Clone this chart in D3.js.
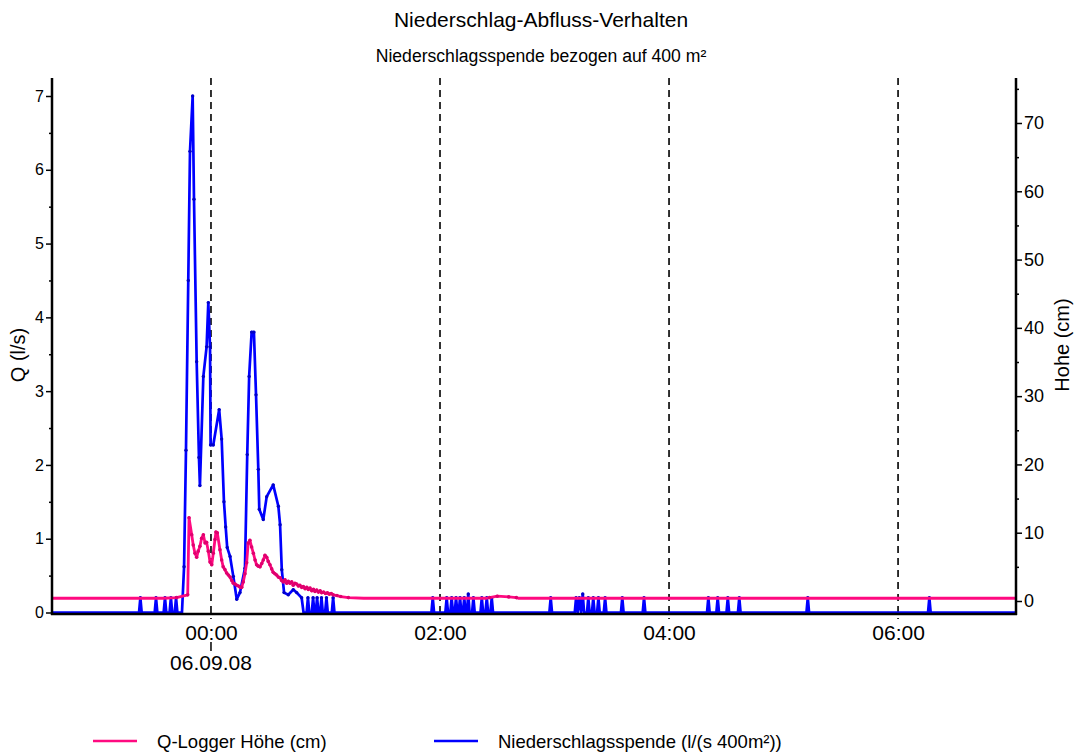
<!DOCTYPE html>
<html>
<head>
<meta charset="utf-8">
<script src="https://cdn.jsdelivr.net/npm/d3@7"></script>
<style>
  body { margin: 0; background: #fff; }
  svg { display: block; }
  text { font-family: "Liberation Sans", Arial, sans-serif; fill: #000; }
</style>
</head>
<body>
<svg id="chart" width="1074" height="753"></svg>
<script>
// ---- labels ----
const titleText = "Niederschlag-Abfluss-Verhalten";
const subtitleText = "Niederschlagsspende bezogen auf 400 m²";
const leftAxisTitle = "Q (l/s)";
const rightAxisTitle = "Hohe (cm)";
const dateLabel = "06.09.08";
const seriesNames = ["Q-Logger Höhe (cm)", "Niederschlagsspende (l/(s 400m²))"];
const seriesColors = ["#ff0a80", "#0000ff"];

// ---- axes (time in minutes relative to 06.09.08 00:00) ----
const timeWindow = [-83.3, 421.8];
const timeTicks = [0, 120, 240, 360];
const qTicks = [0, 1, 2, 3, 4, 5, 6, 7];
const qMinorTicks = [0.5, 1.5, 2.5, 3.5, 4.5, 5.5, 6.5];
const hTicks = [0, 10, 20, 30, 40, 50, 60, 70];
const hMinorTicks = [5, 15, 25, 35, 45, 55, 65, 75];

// ---- Niederschlagsspende, [minute, l/s] ----
const rainPoints = [
  [-84, 0], [-37.7, 0], [-37, 0.2], [-36.3, 0],
  [-29.5, 0], [-28.8, 0.2], [-28.1, 0],
  [-24.8, 0], [-24.1, 0.2], [-23.4, 0],
  [-21.7, 0], [-21, 0.2], [-20.3, 0],
  [-19, 0], [-18.3, 0.2], [-17.6, 0],
  [-15.2, 0], [-14.1, 0.62], [-13.1, 2.2], [-11.9, 4.5], [-11, 6.25], [-9.6, 7.0],
  [-8.9, 5.6], [-7.5, 3.4], [-6.3, 2.1], [-5.8, 1.72], [-4.0, 3.2], [-2.3, 3.6],
  [-1.4, 4.2], [-0.5, 3.6], [-0.2, 2.27], [1.2, 2.27], [4.3, 2.75], [5.6, 2.35],
  [6.8, 1.5], [7.7, 1.16], [8.5, 0.88], [10, 0.76], [11.7, 0.49], [13.5, 0.18],
  [15.2, 0.27], [17.8, 0.6], [19, 2.14], [20, 3.2], [21.3, 3.8], [22.5, 3.8],
  [23.6, 2.95], [24.8, 1.94], [25.3, 1.4], [27.4, 1.26], [29.2, 1.57], [32.6, 1.73],
  [35.3, 1.44], [36.2, 1.19], [37.1, 0.58], [38.3, 0.27], [40.5, 0.24], [43.1, 0.31],
  [44.9, 0.27], [47.5, 0.2], [48.5, 0],
  [50.1, 0], [50.8, 0.2], [51.5, 0], [52.8, 0], [53.5, 0.2], [54.2, 0],
  [54.9, 0], [55.6, 0.2], [56.3, 0], [57.2, 0], [57.9, 0.2], [58.6, 0],
  [59.8, 0], [60.5, 0.2], [61.2, 0], [63.3, 0], [64, 0.2], [64.7, 0],
  [115.5, 0], [116.2, 0.2], [116.9, 0],
  [122.8, 0], [123.5, 0.2], [124.2, 0], [125.4, 0], [126.1, 0.2], [126.8, 0],
  [127.7, 0], [128.4, 0.2], [129.1, 0], [129.8, 0], [130.5, 0.2], [131.2, 0],
  [132, 0], [132.7, 0.2], [133.4, 0], [134.1, 0], [134.8, 0.25], [135.5, 0],
  [136.8, 0], [137.5, 0.2], [138.2, 0], [141.2, 0], [141.9, 0.2], [142.6, 0],
  [143.8, 0], [144.5, 0.2], [145.2, 0], [146.4, 0], [147.1, 0.2], [147.8, 0],
  [177.3, 0], [178, 0.2], [178.7, 0],
  [190.6, 0], [191.3, 0.2], [192.1, 0], [193, 0.2], [193.9, 0], [194.8, 0.25], [195.5, 0],
  [197, 0], [197.7, 0.2], [198.4, 0], [199.6, 0], [200.3, 0.2], [201, 0],
  [202.3, 0], [203, 0.2], [203.7, 0], [205.8, 0], [206.5, 0.2], [207.2, 0],
  [214.8, 0], [215.5, 0.2], [216.2, 0], [226.2, 0], [226.9, 0.2], [227.6, 0],
  [259.9, 0], [260.6, 0.2], [261.3, 0], [264.8, 0], [265.5, 0.2], [266.2, 0],
  [270.1, 0], [270.8, 0.2], [271.5, 0], [276.1, 0], [276.8, 0.2], [277.5, 0],
  [312, 0], [312.7, 0.2], [313.4, 0], [375.7, 0], [376.4, 0.2], [377.1, 0],
  [422, 0]
];

// ---- Q-Logger Höhe, [minute, cm] ----
const levelPoints = [
  [-84, 0.4], [-25, 0.4], [-18, 0.5], [-12.2, 0.9], [-11.5, 12.2], [-10.1, 9.7],
  [-9.3, 8.2], [-8.4, 7.0], [-7.5, 6.4], [-6.7, 7.3], [-5.8, 8.0], [-4.9, 9.2],
  [-4.0, 9.7], [-3.1, 8.5], [-2.3, 8.6], [-1.4, 7.3], [-0.5, 5.7], [0.4, 5.3],
  [1.2, 7.0], [2.1, 9.0], [2.6, 10.1], [3.3, 10.0], [4.7, 7.5], [5.6, 6.0],
  [6.4, 5.0], [7.3, 4.6], [8.2, 4.1], [9.1, 3.8], [10.0, 3.5], [10.9, 3.0],
  [11.7, 2.6], [12.6, 2.5], [13.5, 2.3], [14.4, 2.2], [15.3, 2.0], [16.1, 2.0],
  [16.9, 2.8], [17.8, 4.0], [18.7, 5.6], [19.5, 8.5], [20.4, 8.9], [21.3, 7.9],
  [22.2, 7.0], [23.1, 6.0], [23.9, 5.3], [24.8, 5.1], [25.7, 5.0], [26.6, 5.5],
  [27.4, 6.0], [28.3, 6.7], [29.2, 6.4], [30.0, 5.8], [30.9, 5.3], [31.8, 4.7],
  [32.6, 4.2], [33.5, 4.0], [34.4, 3.8], [35.3, 3.5], [36.2, 3.4], [37, 3.0],
  [37.9, 2.8], [38.8, 3.1], [39.7, 2.6], [40.5, 2.9], [41.4, 2.6], [42.3, 2.8],
  [43.1, 2.3], [44, 2.6], [44.9, 2.5], [45.8, 2.2], [46.6, 2.3], [47.5, 2.0],
  [48.4, 2.1], [49.3, 1.8], [50.2, 2.0], [51, 1.7], [51.9, 1.9], [52.8, 1.5],
  [53.7, 1.7], [54.5, 1.4], [55.4, 1.6], [56.3, 1.3], [57.2, 1.5], [58, 1.2],
  [59, 1.3], [60, 1.1], [61, 1.2], [62, 1.0], [63, 1.1], [64, 0.9], [66, 0.8],
  [68, 0.65], [72, 0.5], [80, 0.4], [144, 0.4], [146, 0.5], [150, 0.7],
  [156, 0.6], [160, 0.5], [161, 0.4], [422, 0.4]
];

// ---- layout ----
const plot = { left: 52, right: 1016, top: 78, bottom: 613 };
const fontFamily = "Liberation Sans, Arial, sans-serif";
const svg = d3.select("#chart");
svg.append("rect").attr("width", 1074).attr("height", 753).attr("fill", "#fff");

const day0 = new Date(2008, 8, 6, 0, 0, 0);
const toDate = m => new Date(day0.getTime() + m * 60000);

const x = d3.scaleTime().domain(timeWindow.map(toDate)).range([plot.left, plot.right]);
const yQ = d3.scaleLinear().domain([0, 7]).range([612.5, 96]);
const yH = d3.scaleLinear().domain([0, 70]).range([601, 123]);

// titles
svg.append("text").attr("x", 541).attr("y", 27).attr("text-anchor", "middle")
  .attr("font-size", 21).text(titleText);
svg.append("text").attr("x", 541).attr("y", 62).attr("text-anchor", "middle")
  .attr("font-size", 17.6).text(subtitleText);

// dashed time grid
svg.append("g").selectAll("line").data(timeTicks).join("line")
  .attr("x1", d => x(toDate(d))).attr("x2", d => x(toDate(d)))
  .attr("y1", plot.top).attr("y2", 619)
  .attr("stroke", "#000").attr("stroke-width", 1.6).attr("stroke-dasharray", "7,5");

// clip for data
svg.append("clipPath").attr("id", "plotclip").append("rect")
  .attr("x", plot.left).attr("y", plot.top - 5)
  .attr("width", plot.right - plot.left).attr("height", plot.bottom - plot.top + 5);

const dataLayer = svg.append("g").attr("clip-path", "url(#plotclip)");

const rainLine = d3.line().x(d => x(toDate(d[0]))).y(d => yQ(d[1]));
const levelLine = d3.line().x(d => x(toDate(d[0]))).y(d => yH(d[1]));

dataLayer.append("path").datum(rainPoints).attr("d", rainLine)
  .attr("fill", "none").attr("stroke", seriesColors[1]).attr("stroke-width", 2.7)
  .attr("stroke-linejoin", "round");
dataLayer.append("g").selectAll("circle").data(rainPoints.filter(d => d[1] > 0)).join("circle")
  .attr("cx", d => x(toDate(d[0]))).attr("cy", d => yQ(d[1])).attr("r", 1.7)
  .attr("fill", "#0000c8");

dataLayer.append("path").datum(levelPoints).attr("d", levelLine)
  .attr("fill", "none").attr("stroke", seriesColors[0]).attr("stroke-width", 2.8)
  .attr("stroke-linejoin", "round");
dataLayer.append("g").selectAll("circle").data(levelPoints.filter(d => d[1] > 0.45)).join("circle")
  .attr("cx", d => x(toDate(d[0]))).attr("cy", d => yH(d[1])).attr("r", 1.8)
  .attr("fill", "#e0006e");

// left axis
const leftAxis = svg.append("g").attr("transform", `translate(${plot.left},0)`)
  .call(d3.axisLeft(yQ).tickValues(qTicks).tickSize(6).tickPadding(2).tickFormat(d3.format("d")));
leftAxis.select(".domain").remove();
leftAxis.selectAll("text").attr("font-size", 16).attr("font-family", fontFamily);
leftAxis.selectAll("line").attr("stroke-width", 1.5);
svg.append("g").attr("transform", `translate(${plot.left},0)`)
  .call(d3.axisLeft(yQ).tickValues(qMinorTicks).tickSize(3).tickFormat(""))
  .call(g => g.select(".domain").remove())
  .selectAll("line").attr("stroke-width", 1.5);
svg.append("line").attr("x1", plot.left).attr("x2", plot.left)
  .attr("y1", plot.top).attr("y2", plot.bottom + 2)
  .attr("stroke", "#000").attr("stroke-width", 2.5);

// right axis
const rightAxis = svg.append("g").attr("transform", `translate(${plot.right},0)`)
  .call(d3.axisRight(yH).tickValues(hTicks).tickSize(6).tickPadding(2).tickFormat(d3.format("d")));
rightAxis.select(".domain").remove();
rightAxis.selectAll("text").attr("font-size", 18).attr("font-family", fontFamily);
rightAxis.selectAll("line").attr("stroke-width", 1.5);
svg.append("g").attr("transform", `translate(${plot.right},0)`)
  .call(d3.axisRight(yH).tickValues(hMinorTicks).tickSize(3).tickFormat(""))
  .call(g => g.select(".domain").remove())
  .selectAll("line").attr("stroke-width", 1.5);
svg.append("line").attr("x1", plot.right).attr("x2", plot.right)
  .attr("y1", plot.top).attr("y2", plot.bottom + 2)
  .attr("stroke", "#000").attr("stroke-width", 2.5);

// bottom axis
const bottomAxis = svg.append("g").attr("transform", `translate(0,${plot.bottom + 1})`)
  .call(d3.axisBottom(x).tickValues(timeTicks.map(toDate)).tickSize(0).tickPadding(11)
    .tickFormat(d3.timeFormat("%H:%M")));
bottomAxis.select(".domain").remove();
bottomAxis.selectAll("text").attr("font-size", 21).attr("font-family", fontFamily);
svg.append("line").attr("x1", plot.left - 1).attr("x2", plot.right + 1)
  .attr("y1", plot.bottom + 1).attr("y2", plot.bottom + 1)
  .attr("stroke", "#000").attr("stroke-width", 2.5);

// day marker under 00:00
const x0 = x(toDate(0));
svg.append("line").attr("x1", x0).attr("x2", x0).attr("y1", 642).attr("y2", 651)
  .attr("stroke", "#000").attr("stroke-width", 1.5);
svg.append("text").attr("x", x0).attr("y", 670).attr("text-anchor", "middle")
  .attr("font-size", 21).text(dateLabel);

// axis titles
svg.append("text").attr("transform", "translate(25,355) rotate(-90)")
  .attr("text-anchor", "middle").attr("font-size", 20).text(leftAxisTitle);
svg.append("text").attr("transform", "translate(1069,345) rotate(-90)")
  .attr("text-anchor", "middle").attr("font-size", 20).text(rightAxisTitle);

// legend
const legendItems = [
  { name: seriesNames[0], color: seriesColors[0], x: 93 },
  { name: seriesNames[1], color: seriesColors[1], x: 434 }
];
const legend = svg.append("g").selectAll("g").data(legendItems).join("g")
  .attr("transform", d => `translate(${d.x},741)`);
legend.append("line").attr("x1", 0).attr("x2", 44).attr("y1", 0).attr("y2", 0)
  .attr("stroke", d => d.color).attr("stroke-width", 2.7);
legend.append("text").attr("x", 64).attr("y", 6.5).attr("font-size", 18.5).text(d => d.name);
</script>
</body>
</html>
